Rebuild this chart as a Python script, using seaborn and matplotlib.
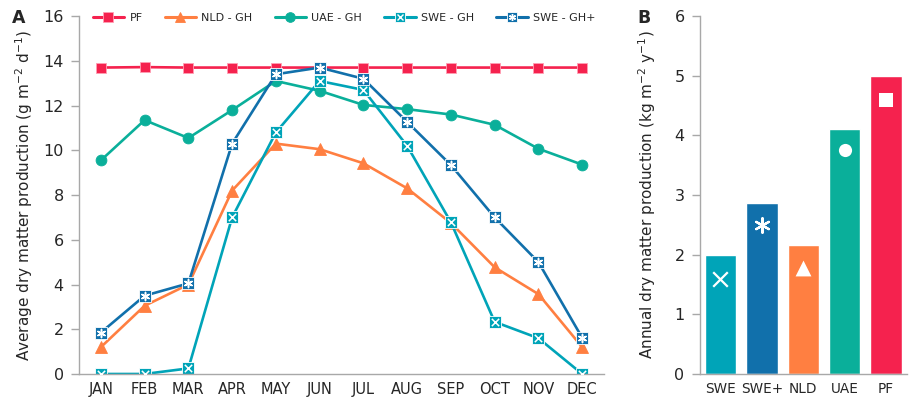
import matplotlib
matplotlib.use('Agg')
import matplotlib.pyplot as plt
from matplotlib.lines import Line2D
from matplotlib.legend_handler import HandlerTuple
import seaborn as sns
import numpy as np

months = ['JAN', 'FEB', 'MAR', 'APR', 'MAY', 'JUN', 'JUL', 'AUG', 'SEP', 'OCT', 'NOV', 'DEC']
pf = [13.7, 13.72, 13.7, 13.7, 13.7, 13.7, 13.7, 13.7, 13.7, 13.7, 13.7, 13.7]
nld_gh = [1.2, 3.05, 4.0, 8.2, 10.3, 10.05, 9.42, 8.3, 6.75, 4.77, 3.57, 1.2]
uae_gh = [9.55, 11.35, 10.55, 11.8, 13.1, 12.66, 12.03, 11.84, 11.6, 11.14, 10.07, 9.36]
swe_gh = [0.0, 0.0, 0.25, 7.0, 10.8, 13.1, 12.7, 10.2, 6.78, 2.33, 1.6, 0.0]
swe_ghp = [1.85, 3.5, 4.05, 10.3, 13.4, 13.7, 13.2, 11.27, 9.34, 7.0, 5.0, 1.62]

bar_cats = ['SWE', 'SWE+', 'NLD', 'UAE', 'PF']
bar_vals = [2.0, 2.87, 2.16, 4.1, 5.0]
bar_marker_y = [1.6, 2.5, 1.78, 3.75, 4.6]

c_pf = '#F5224E'
c_nld = '#FF7F41'
c_uae = '#0AAF9A'
c_swe = '#00A4B8'
c_swep = '#1170AB'
grey = '#a8a8a8'

sns.set_style('white')
plt.rcParams['font.family'] = ['DejaVu Sans']

fig = plt.figure(figsize=(9.1, 4.03), dpi=100)
ax = fig.add_axes([0.0868, 0.072, 0.577, 0.888])
ax2 = fig.add_axes([0.769, 0.072, 0.2275, 0.888])

x = np.arange(len(months))
series = [
    ('PF', pf, c_pf, 's', 7.8, '#ff9fb4'),
    ('NLD - GH', nld_gh, c_nld, '^', 8, c_nld),
    ('UAE - GH', uae_gh, c_uae, 'o', 7.8, c_uae),
    ('SWE - GH', swe_gh, c_swe, 's', 8.2, 'white'),
    ('SWE - GH+', swe_ghp, c_swep, 's', 8.2, 'white'),
]
for name, vals, col, mk, ms, mec in series:
    sns.lineplot(x=x, y=vals, ax=ax, color=col, marker=mk, markersize=ms,
                 markeredgecolor=mec, markeredgewidth=0.6, linewidth=1.9, sort=False)

# white crosses on the Swedish series
sns.scatterplot(x=x, y=swe_gh, ax=ax, marker='x', color='white', s=28, linewidth=1.1, zorder=5)
sns.scatterplot(x=x, y=swe_ghp, ax=ax, marker=(6, 2, 0), color='white', s=34, linewidth=1.1, zorder=5)

ax.set_xlim(-0.5, 11.5)
ax.set_ylim(0, 16)
ax.set_yticks(range(0, 17, 2))
ax.set_xticks(x)
ax.set_xticklabels(months)
ax.set_xticks(np.arange(-0.5, 12, 1), minor=True)
ax.tick_params(axis='x', which='major', length=0, labelsize=10.5, pad=6)
ax.tick_params(axis='x', which='minor', length=6, color=grey, width=1)
ax.tick_params(axis='y', length=6, color=grey, width=1, labelsize=11.5, pad=5, left=True)
ax.set_ylabel('Average dry matter production (g m$^{-2}$ d$^{-1}$)', fontsize=11, labelpad=6)
ax.set_xlabel('')

def handle(col, mk, mec, overlay=None):
    base = Line2D([], [], color=col, marker=mk, markersize=7, markeredgecolor=mec,
                  markeredgewidth=0.6, linewidth=2.2)
    if overlay is None:
        return base
    over = Line2D([], [], linestyle='none', marker=overlay, color='white',
                  markersize=5, markeredgewidth=1.0)
    return (base, over)

handles = [handle(c_pf, 's', '#ff9fb4'), handle(c_nld, '^', c_nld), handle(c_uae, 'o', c_uae),
           handle(c_swe, 's', 'white', 'x'), handle(c_swep, 's', 'white', (6, 2, 0))]
labels = [s[0] for s in series]
ax.legend(handles, labels, loc='center', bbox_to_anchor=(0.505, 0.995), ncol=5, frameon=False,
          fontsize=8, handlelength=2.8, columnspacing=2.0, handletextpad=0.5,
          handler_map={tuple: HandlerTuple(ndivide=1)})

sns.barplot(x=bar_cats, y=bar_vals, hue=bar_cats, legend=False, ax=ax2,
            palette=[c_swe, c_swep, c_nld, c_uae, c_pf], width=0.76, saturation=1)
bar_markers = ['x', (6, 2, 0), '^', 'o', 's']
bar_sizes = [110, 110, 130, 90, 100]
for i, (mk, sz) in enumerate(zip(bar_markers, bar_sizes)):
    sns.scatterplot(x=[i], y=[bar_marker_y[i]], ax=ax2, marker=mk, color='white', s=sz,
                    linewidth=1.6 if mk in ('x', (6, 2, 0)) else 0, zorder=5)

ax2.set_xlim(-0.5, 4.42)
ax2.set_ylim(0, 6)
ax2.set_yticks(range(0, 7))
ax2.set_xticks(np.arange(-0.5, 5, 1), minor=True)
ax2.tick_params(axis='x', which='major', length=0, labelsize=9.8, pad=6)
ax2.tick_params(axis='x', which='minor', length=6, color=grey, width=1)
ax2.tick_params(axis='y', length=6, color=grey, width=1, labelsize=11.5, pad=5, left=True)
ax2.set_ylabel('Annual dry matter production (kg m$^{-2}$ y$^{-1}$)', fontsize=11, labelpad=12)
ax2.set_xlabel('')

for a in (ax, ax2):
    sns.despine(ax=a)
    for sp in ('left', 'bottom'):
        a.spines[sp].set_color(grey)
        a.spines[sp].set_linewidth(1)

fig.text(0.013, 0.955, 'A', fontsize=12.5, fontweight='bold', va='center')
fig.text(0.700, 0.955, 'B', fontsize=12.5, fontweight='bold', va='center')

fig.savefig('out.png', dpi=100)
